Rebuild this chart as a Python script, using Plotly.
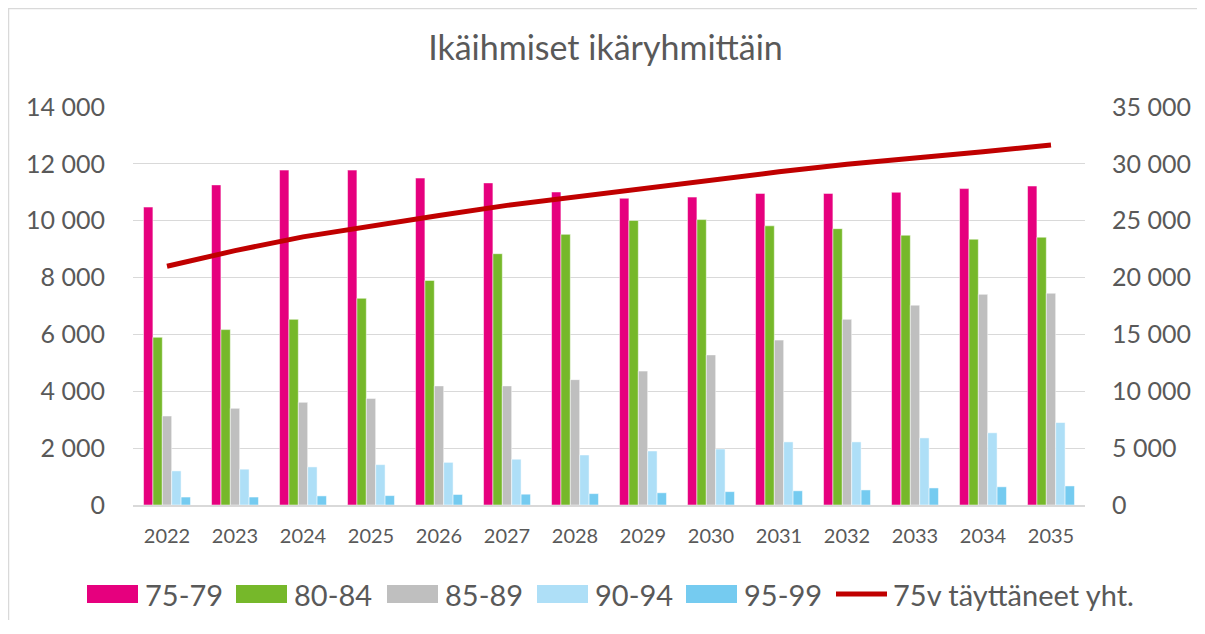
"""Ikäihmiset ikäryhmittäin - grouped bars with total line on a secondary axis."""

import plotly.graph_objects as go

years = ["2022", "2023", "2024", "2025", "2026", "2027", "2028",
         "2029", "2030", "2031", "2032", "2033", "2034", "2035"]

age_75_79 = [10480, 11260, 11780, 11780, 11500, 11330, 11010,
             10790, 10830, 10960, 10960, 11000, 11130, 11220]
age_80_84 = [5900, 6170, 6530, 7270, 7900, 8840, 9520,
             10010, 10040, 9820, 9720, 9490, 9350, 9420]
age_85_89 = [3130, 3400, 3610, 3750, 4190, 4190, 4410,
             4710, 5280, 5800, 6530, 7030, 7410, 7450]
age_90_94 = [1200, 1260, 1340, 1420, 1500, 1610, 1760,
             1900, 1970, 2220, 2220, 2360, 2540, 2900]
age_95_99 = [280, 280, 320, 330, 370, 380, 400,
             430, 470, 500, 530, 600, 640, 670]
total_75 = [20990, 22370, 23580, 24550, 25460, 26350, 27100,
            27840, 28590, 29300, 29960, 30480, 31070, 31660]

bar_series = [
    ("75-79", age_75_79, "#E6007E"),
    ("80-84", age_80_84, "#76B82A"),
    ("85-89", age_85_89, "#BFBFBF"),
    ("90-94", age_90_94, "#AEDFF7"),
    ("95-99", age_95_99, "#75CBF0"),
]
line_name = "75v täyttäneet yht."
line_color = "#C00000"

FONT = "Lato, 'Open Sans', sans-serif"
GREY = "#595959"

# page layout (the page body adds an 8 px offset)
W, H = 1195, 612
L, R, T, B = 125, 118, 99, 115
PW, PH = W - L - R, H - T - B


def px_x(x):
    return (x - L) / PW


def px_y(y):
    return (H - B - y) / PH


fig = go.Figure()
for name, values, color in bar_series:
    fig.add_trace(go.Bar(x=years, y=values, name=name, showlegend=False,
                         marker=dict(color=color, line=dict(color="white", width=0.5))))

fig.add_trace(go.Scatter(x=years, y=total_75, name=line_name, showlegend=False,
                         mode="lines", yaxis="y2",
                         line=dict(color=line_color, width=5)))

# hand-drawn legend with wide swatches like the original
legend_items = [(n, c, "bar") for n, _, c in bar_series] + [(line_name, line_color, "line")]
legend_x = [79, 228, 379, 529, 678, 826]   # swatch left edges, px
legend_cy = 586
shapes, annotations = [], []
for (name, color, kind), x0 in zip(legend_items, legend_x):
    if kind == "bar":
        shapes.append(dict(type="rect", xref="paper", yref="paper",
                           x0=px_x(x0), x1=px_x(x0 + 51),
                           y0=px_y(legend_cy - 9), y1=px_y(legend_cy + 9),
                           fillcolor=color, line=dict(width=0)))
        tx = x0 + 56
    else:
        shapes.append(dict(type="line", xref="paper", yref="paper",
                           x0=px_x(x0 + 2), x1=px_x(x0 + 53),
                           y0=px_y(legend_cy), y1=px_y(legend_cy),
                           line=dict(color=color, width=5)))
        tx = x0 + 57
    annotations.append(dict(text=name, xref="paper", yref="paper",
                            x=px_x(tx), y=px_y(legend_cy), xanchor="left",
                            yanchor="middle", showarrow=False,
                            font=dict(size=29, color=GREY)))

shapes.append(dict(type="rect", xref="paper", yref="paper",
                   x0=px_x(0.5), x1=px_x(W - 1), y0=px_y(0.5), y1=px_y(H + 10),
                   line=dict(color="#d9d9d9", width=1.5)))

fig.update_layout(
    width=W, height=H,
    template="plotly_white",
    paper_bgcolor="white", plot_bgcolor="white",
    font=dict(family=FONT, color=GREY, size=24),
    separators=", ",
    title=dict(text="Ikäihmiset ikäryhmittäin", x=0.5, xanchor="center",
               y=1 - 40 / H, yanchor="middle", font=dict(size=34, color=GREY)),
    barmode="group", bargap=0.31, bargroupgap=0,
    margin=dict(l=L, r=R, t=T, b=B),
    showlegend=False,
    xaxis=dict(showgrid=False, showline=True, linecolor="#d9d9d9", linewidth=1.5,
               ticks="", ticklabelstandoff=12, tickfont=dict(size=20, color=GREY)),
    yaxis=dict(range=[0, 14000], dtick=2000, tickformat=",d",
               gridcolor="#d9d9d9", gridwidth=1.3, zeroline=False,
               ticks="", ticklabelstandoff=27, tickfont=dict(size=25, color=GREY)),
    yaxis2=dict(range=[0, 35000], dtick=5000, tickformat=",d", overlaying="y",
                side="right", showgrid=False, zeroline=False,
                ticks="", ticklabelstandoff=26, tickfont=dict(size=25, color=GREY)),
    shapes=shapes,
    annotations=annotations,
)

fig.write_html("out.html")
